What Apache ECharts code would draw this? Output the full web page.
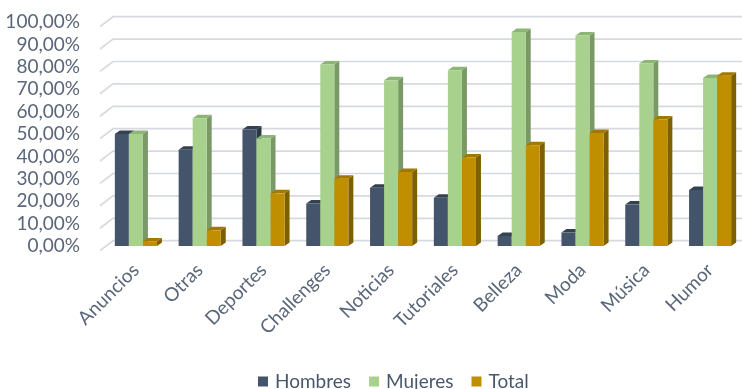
<!DOCTYPE html>
<html>
<head>
<meta charset="utf-8">
<script src="https://cdn.jsdelivr.net/npm/echarts@6/dist/echarts.min.js"></script>
<style>
html,body{margin:0;padding:0;background:#fff;}
#c{width:742px;height:389px;}
</style>
</head>
<body>
<div id="c"></div>
<script>
const categories = ['Anuncios','Otras','Deportes','Challenges','Noticias','Tutoriales','Belleza','Moda','Música','Humor'];
const hombres = [50, 43, 52, 19, 26, 21.5, 4.5, 6, 18.5, 25];
const mujeres = [50, 57, 48, 81, 74, 78.5, 95.5, 94, 81.5, 75];
const total   = [2, 7, 23.5, 30, 33, 39.5, 45, 50.5, 56.5, 76];
const yTicks  = [0, 10, 20, 30, 40, 50, 60, 70, 80, 90, 100];
const seriesNames = ['Hombres', 'Mujeres', 'Total'];

const palette = [
  {front:'#44546a', top:'#34414f', side:'#2c3745'},
  {front:'#a9d18e', top:'#8db676', side:'#7a9966'},
  {front:'#bf8f00', top:'#a27800', side:'#7f6000'}
];
const DX = 5, DY = -3.5;
const labelColor = '#5a6679';
const FONT = 'Lato, "Open Sans", sans-serif';

function barRender(k) {
  return function (params, api) {
    const idx = api.value(0), v = api.value(1);
    const top = api.coord([idx, v]);
    const base = api.coord([idx, 0]);
    const band = api.size([1, 0])[0];
    const w = band * 0.22;
    const x0 = top[0] + (k - 1.5) * w;
    const yt = top[1], yb = base[1];
    const c = palette[k];
    return {
      type: 'group',
      children: [
        {type:'polygon', shape:{points:[[x0+w,yt],[x0+w+DX,yt+DY],[x0+w+DX,yb+DY],[x0+w,yb]]}, style:{fill:c.side}},
        {type:'polygon', shape:{points:[[x0,yt],[x0+w,yt],[x0+w+DX,yt+DY],[x0+DX,yt+DY]]}, style:{fill:c.top}},
        {type:'rect', shape:{x:x0, y:yt, width:w, height:yb-yt}, style:{fill:c.front}}
      ]
    };
  };
}

function gridRender(params, api) {
  const cs = params.coordSys;
  const y = api.coord([0, api.value(1)])[1];
  const L = cs.x, R = cs.x + cs.width;
  return {
    type: 'polyline',
    shape: {points: [[L - 4, y + 4.6], [L + 9, y - 5.3], [R, y - 5.3]]},
    style: {stroke: '#d6dae0', lineWidth: 1.7, fill: null}
  };
}

const values = [hombres, mujeres, total];
const series = [{
  name: 'grid', type: 'custom', renderItem: gridRender, z: 1, silent: true,
  encode: {x: 0, y: 1},
  data: yTicks.map(v => [0, v])
}];
values.forEach((arr, k) => {
  series.push({
    name: seriesNames[k], type: 'custom', renderItem: barRender(k), z: 2 + k,
    itemStyle: {color: palette[k].front},
    encode: {x: 0, y: 1},
    data: arr.map((v, i) => [i, v])
  });
});

const chart = echarts.init(document.getElementById('c'));
chart.setOption({
  animation: false,
  backgroundColor: '#fff',
  grid: {left: 104, top: 22, width: 639, height: 224},
  xAxis: {
    type: 'category', data: categories,
    axisLine: {show: false}, axisTick: {show: false},
    axisLabel: {rotate: 45, margin: 21, fontSize: 19, fontFamily: FONT, color: labelColor, interval: 0}
  },
  yAxis: {
    type: 'value', min: 0, max: 100, interval: 10,
    axisLine: {show: false}, axisTick: {show: false}, splitLine: {show: false},
    axisLabel: {
      margin: 24, fontSize: 19, fontFamily: FONT, color: labelColor, padding: [6, 0, 0, 0],
      formatter: v => v.toFixed(2).replace('.', ',') + '%'
    }
  },
  legend: {
    data: seriesNames, left: 253, top: 367,
    icon: 'rect', itemWidth: 10, itemHeight: 10, itemGap: 18,
    textStyle: {fontSize: 19, fontFamily: FONT, color: '#4a576b', padding: [0, 0, 0, 2]}
  },
  series: series
});
</script>
</body>
</html>
